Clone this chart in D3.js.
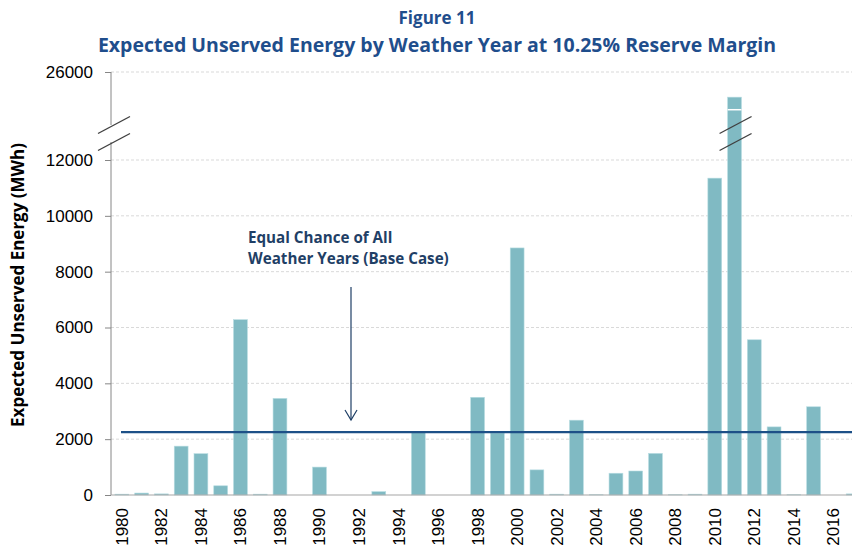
<!DOCTYPE html>
<html>
<head>
<meta charset="utf-8">
<script src="https://cdn.jsdelivr.net/npm/d3@7"></script>
<style>
  body { margin: 0; background: #fff; }
  svg { display: block; }
</style>
</head>
<body>
<div id="chart"></div>
<script>
/* DATA */
const years = d3.range(1980, 2018).map(String);
const unservedMWh = [
  30, 70, 40, 1750, 1480, 330, 6280, 30, 3460, 0,
  1000, 0, 0, 120, 0, 2250, 0, 0, 3500, 2220,
  8850, 900, 30, 2680, 10, 780, 860, 1490, 10, 30,
  11350, 22000, 5560, 2440, 10, 3160, 0, 40
];
const yTicks = [0, 2000, 4000, 6000, 8000, 10000, 12000, 26000];
const baseCase = 2250;
const capSplit = 20000; // white seam in the 2011 bar

/* CONSTANTS */
const width = 852, height = 552;
const axisX = 111;
const navy = "#1f4e8c";
const barColor = "#80bac3";

const svg = d3.select("#chart").append("svg")
  .attr("width", width)
  .attr("height", height)
  .style("font-family", "'Liberation Sans', Arial, sans-serif");

// broken y scale: linear to 12000, compressed above
const yScale = d3.scaleLinear()
  .domain([0, 12000, 26000])
  .range([495, 160, 72]);

const xScale = d3.scaleBand()
  .domain(years)
  .range([axisX, 864])
  .paddingInner(0.3)
  .paddingOuter(0.2);

// gridlines
svg.append("g")
  .selectAll("line")
  .data(yTicks.filter(d => d > 0))
  .join("line")
  .attr("x1", axisX).attr("x2", width)
  .attr("y1", d => yScale(d)).attr("y2", d => yScale(d))
  .attr("stroke", "#d9d9d9")
  .attr("stroke-dasharray", "3,2")
  .attr("stroke-width", 1);

// bars
const data = years.map((y, i) => ({ year: y, value: unservedMWh[i] }));
svg.append("g")
  .selectAll("rect")
  .data(data)
  .join("rect")
  .attr("x", d => xScale(d.year))
  .attr("width", xScale.bandwidth())
  .attr("y", d => yScale(d.value))
  .attr("height", d => yScale(0) - yScale(d.value))
  .attr("fill", barColor)
  .attr("stroke", "#b7dde2")
  .attr("stroke-width", 0.6);

// seam on the tall bar
const tall = data.filter(d => d.value > capSplit);
svg.append("g")
  .selectAll("line")
  .data(tall)
  .join("line")
  .attr("x1", d => xScale(d.year))
  .attr("x2", d => xScale(d.year) + xScale.bandwidth())
  .attr("y1", yScale(capSplit)).attr("y2", yScale(capSplit))
  .attr("stroke", "#ffffff")
  .attr("stroke-width", 1.5);

// y axis
const yAxis = svg.append("g")
  .attr("transform", `translate(${axisX},0)`)
  .call(d3.axisLeft(yScale)
    .tickValues(yTicks)
    .tickSize(6)
    .tickPadding(12)
    .tickFormat(d3.format("d")));
yAxis.select(".domain").remove();
yAxis.selectAll(".tick line").attr("stroke", "#868686");
yAxis.selectAll(".tick text")
  .attr("font-size", 17)
  .attr("fill", "#000")
  .style("font-family", "'Liberation Sans', Arial, sans-serif");

// axis line with break gap
const breakY = [125, 142];
svg.append("line")
  .attr("x1", axisX).attr("x2", axisX)
  .attr("y1", yScale(26000)).attr("y2", breakY[0])
  .attr("stroke", "#868686");
svg.append("line")
  .attr("x1", axisX).attr("x2", axisX)
  .attr("y1", breakY[1]).attr("y2", yScale(0))
  .attr("stroke", "#868686");

// x axis
svg.append("line")
  .attr("x1", axisX).attr("x2", width)
  .attr("y1", yScale(0)).attr("y2", yScale(0))
  .attr("stroke", "#a6a6a6")
  .attr("stroke-width", 1.2);

svg.append("g")
  .selectAll("text")
  .data(years.filter((d, i) => i % 2 === 0))
  .join("text")
  .attr("transform", d => `translate(${xScale(d) + xScale.bandwidth() / 2},${yScale(0) + 13}) rotate(-90)`)
  .attr("text-anchor", "end")
  .attr("dy", "0.35em")
  .attr("font-size", 17)
  .attr("fill", "#000")
  .text(d => d);

// break marks: on axis and on the tall bar
const slash = (cx, cy) => `M${cx - 16},${cy + 8.5}L${cx + 16},${cy - 8.5}`;
const breakCenters = [axisX + 3].concat(tall.map(d => xScale(d.year) + xScale.bandwidth() / 2 + 1));
breakCenters.forEach(cx => {
  breakY.forEach(cy => {
    svg.append("path")
      .attr("d", slash(cx, cy))
      .attr("stroke", "#404040")
      .attr("stroke-width", 1.4)
      .attr("fill", "none");
  });
});

// base case line
svg.append("line")
  .attr("x1", 121).attr("x2", width)
  .attr("y1", yScale(baseCase)).attr("y2", yScale(baseCase))
  .attr("stroke", "#1d5087")
  .attr("stroke-width", 2.2);

// annotation
const note = svg.append("text")
  .attr("font-family", "'Open Sans', sans-serif")
  .attr("font-weight", "bold")
  .attr("font-size", 15.2)
  .attr("fill", "#1f3f66");
note.append("tspan").attr("x", 248).attr("y", 243).text("Equal Chance of All");
note.append("tspan").attr("x", 248).attr("y", 264).text("Weather Years (Base Case)");

const arrowX = 351;
svg.append("line")
  .attr("x1", arrowX).attr("x2", arrowX)
  .attr("y1", 287).attr("y2", 420)
  .attr("stroke", "#1f3f66")
  .attr("stroke-width", 1.2);
svg.append("path")
  .attr("d", `M${arrowX - 6},${410}L${arrowX},${420}L${arrowX + 6},${410}`)
  .attr("fill", "none")
  .attr("stroke", "#1f3f66")
  .attr("stroke-width", 1.2);

// titles
svg.append("text")
  .attr("x", 437).attr("y", 24)
  .attr("text-anchor", "middle")
  .attr("font-family", "'Open Sans', sans-serif")
  .attr("font-weight", "bold")
  .attr("font-size", 17)
  .attr("fill", navy)
  .text("Figure 11");
svg.append("text")
  .attr("x", 437).attr("y", 52)
  .attr("text-anchor", "middle")
  .attr("font-family", "'Open Sans', sans-serif")
  .attr("font-weight", "bold")
  .attr("font-size", 19.5)
  .attr("fill", navy)
  .text("Expected Unserved Energy by Weather Year at 10.25% Reserve Margin");

// y axis title
svg.append("text")
  .attr("transform", "translate(24,285) rotate(-90)")
  .attr("text-anchor", "middle")
  .attr("font-family", "'Open Sans', sans-serif")
  .attr("font-weight", "bold")
  .attr("font-size", 17)
  .attr("fill", "#000")
  .text("Expected Unserved Energy (MWh)");
</script>
</body>
</html>
